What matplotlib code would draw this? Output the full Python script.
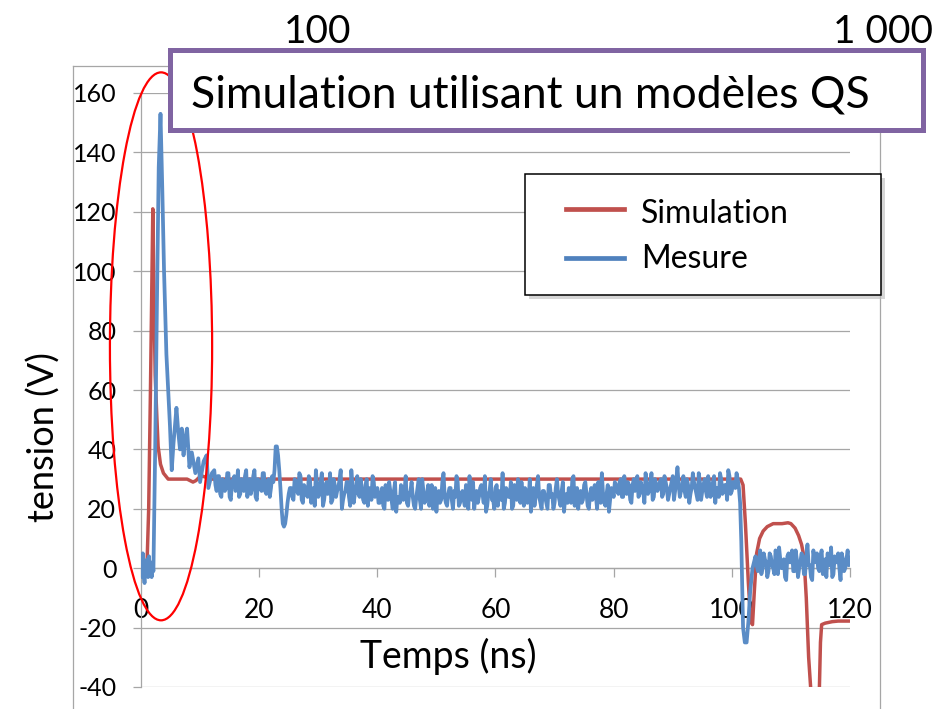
import matplotlib
matplotlib.use("Agg")
import matplotlib.pyplot as plt
import numpy as np
from matplotlib.patches import Rectangle, Ellipse
from matplotlib.lines import Line2D

plt.rcParams['font.family'] = ['Lato', 'DejaVu Sans']
plt.rcParams['axes.unicode_minus'] = False

# ---------------- data ----------------
serie_sim = "Simulation"
serie_mes = "Mesure"

# Simulation (red)
sim_t = [0, 1.0, 1.3, 1.6, 1.8, 2.0, 2.2, 2.4, 2.7, 2.9, 3.3, 3.8, 4.6, 7.8, 8.3, 8.8,
         9.3, 9.8, 10.4, 11.2, 12.0, 101.5, 101.9, 102.3, 102.8, 103.2, 103.5, 103.8,
         104.2, 104.7, 105.3, 106.0, 107.0, 108.5, 109.5, 110.0, 110.7, 111.3, 111.8,
         112.2, 112.6, 113.0, 113.4, 114.8, 115.0, 115.2, 115.8, 117.0, 118.0, 120.0]
sim_v = [0, 0, 20, 60, 90, 121, 90, 65, 50, 41, 35, 32, 30, 30, 29.5, 29,
         29.5, 30.5, 31, 30.5, 30, 30, 28, 15, -5, -18, -19, -8,
         5, 10, 12.5, 14, 15, 15, 15.3, 15, 13.5, 11, 8,
         4, -10, -30, -42, -42, -25, -19, -18.5, -18, -17.8, -17.8]

# Mesure (blue) - start transient
mes_t_debut = [0.0, 0.15, 0.3, 0.45, 0.6, 0.75, 0.9, 1.05, 1.2, 1.35, 1.5, 1.65, 1.8,
               1.95, 2.1, 2.4, 2.7, 3.0, 3.3, 3.6, 3.9, 4.3, 4.6, 4.9, 5.2, 5.5, 6.0,
               6.3, 6.6, 6.9, 7.2, 7.5, 7.8, 8.2, 8.6, 9.2, 9.7, 10.0, 10.6, 11.1,
               11.4, 12.0]
mes_v_debut = [4, -3, 5, -2, -5, 2, -1, 3, -3, 4, -2, 1, -3,
               2, -1, 40, 90, 135, 153, 128, 100, 72, 60, 48, 33, 42, 54,
               46, 40, 47, 38, 44, 47, 34, 39, 32, 37, 29, 36, 38,
               27, 32]

# Mesure plateau, oscilloscope samples every 0.2 ns (two interleaved lists)
mes_plateau_t0 = 12.4
mes_pas = 0.4
mes_v_plateau = [
    33, 26, 31, 24, 29, 27, 32, 23, 30, 26, 33, 25, 28, 31, 24, 30, 27, 33, 23, 29,
    26, 32, 25, 30, 27, 29,
    41, 38, 27, 15, 15, 22, 27,
    24, 30, 26, 32, 23, 28, 25, 31, 22, 27, 33, 24, 29, 21, 27, 25, 32, 23, 28, 26,
    30, 20, 25, 29, 24, 33, 22, 27, 25, 30, 23, 28, 21, 26, 31, 24, 27,
    22, 27, 20, 25, 29, 23, 26, 19, 24, 28,
    23, 31, 21, 26, 24, 20, 27, 23, 30, 22,
    25, 21, 28, 24, 19, 26, 23, 32, 22, 25,
    27, 20, 24, 29, 22, 26, 21, 25, 31, 23,
    20, 26, 24, 28, 22, 19, 25, 30, 23, 27,
    21, 25, 32, 22, 26, 24, 20, 28, 23, 25,
    29, 21, 26, 23, 19, 27, 24, 31, 22, 26,
    24, 20, 28, 25, 22, 30, 23, 26, 19, 25,
    27, 22, 31, 24, 20, 26, 23, 29, 21, 25,
    23, 28, 20, 26, 32, 22, 25, 19, 27, 24,
    28, 25, 30, 24, 27, 29, 23, 28, 26, 31, 25, 27, 22, 29, 26, 32, 24, 28, 27, 30,
    25, 29, 23, 27, 31, 26, 34, 24, 28, 26, 30, 22, 27, 29, 25, 32, 23, 28, 26, 31,
    24, 29, 22, 27, 32, 25, 28, 23, 31, 26, 29, 32, 27]
mes_plateau_mi_t0 = 12.6
mes_v_plateau_mi = [
    28, 31, 25, 30, 26, 32, 24, 29, 31, 27, 24, 30, 26, 33, 28, 25, 31, 24, 30, 27,
    32, 26, 29, 24, 31,
    33, 41, 33, 20, 14, 18, 25,
    27, 23, 29, 25, 31, 22, 27, 24, 30, 26, 21, 28, 25, 32, 23, 29, 26, 22, 30, 24,
    27, 33, 23, 26, 29, 21, 28, 25, 31, 24, 26, 22, 30, 27, 23, 29, 25, 22,
    25, 21, 28, 23, 26, 20, 29, 24, 22, 27,
    26, 22, 25, 29, 21, 24, 30, 20, 26, 23,
    28, 24, 20, 27, 25, 22, 29, 24, 21, 27,
    23, 26, 31, 21, 25, 23, 28, 20, 24, 29,
    24, 22, 27, 25, 31, 21, 26, 23, 20, 28,
    26, 23, 20, 27, 24, 29, 21, 25, 30, 22,
    24, 27, 22, 30, 25, 21, 28, 24, 20, 26,
    22, 28, 24, 20, 27, 25, 21, 29, 24, 22,
    25, 30, 21, 27, 24, 22, 28, 25, 20, 27,
    26, 24, 29, 22, 25, 21, 28, 23, 26, 29,
    26, 29, 24, 31, 25, 28, 22, 30, 27, 24, 29, 26, 32, 25, 28, 23, 30, 26, 29, 24,
    31, 27, 25, 29, 23, 30, 28, 26, 31, 24, 28, 25, 32, 27, 23, 29, 26, 30, 24, 28,
    25, 31, 27, 24, 30, 26, 28, 33, 25, 29, 27, 30]

# Mesure - fall near 102 ns
mes_t_chute = [101.4, 101.6, 101.9, 102.2, 102.5, 102.8, 103.1, 103.5]
mes_v_chute = [22, 9, -20, -25, -25, -18, -8, 0]

# Mesure tail (two interleaved lists, 0.2 ns apart)
mes_fin_t0 = 104.0
mes_v_fin = [4, -1, 6, 0, 3, -3, 5, 1, -2, 4, 7, 0, 3, -4, 5, 2, -1, 6, -3, 2,
             4, -2, 8, 1, -4, 3, 5, -1, 6, 0, -3, 4, 7, -2, 2, 5, -4, 3, 0, 6, 2]
mes_fin_mi_t0 = 104.2
mes_v_fin_mi = [1, 3, -2, 5, 2, -1, 4, 0, 6, -2, 3, 1, -3, 4, 2, 6, -1, 3, 0, 5,
                -2, 4, 1, -3, 6, 2, 0, 4, -2, 3, 5, 1, -3, 4, 2, 0, 5, -1, 3, 1]

x_ticks = [0, 20, 40, 60, 80, 100, 120]
y_ticks = [-40, -20, 0, 20, 40, 60, 80, 100, 120, 140, 160]

titre_encadre = "Simulation utilisant un modèles QS"
texte_100 = "100"
texte_1000 = "1 000"
x_label = "Temps (ns)"
y_label = "tension (V)"

# ---------------- assemble ----------------
def grille(t0, vals):
    return t0 + mes_pas * np.arange(len(vals))

mes_t = np.concatenate([mes_t_debut,
                        grille(mes_plateau_t0, mes_v_plateau),
                        grille(mes_plateau_mi_t0, mes_v_plateau_mi),
                        mes_t_chute,
                        grille(mes_fin_t0, mes_v_fin),
                        grille(mes_fin_mi_t0, mes_v_fin_mi)])
mes_v = np.concatenate([mes_v_debut, mes_v_plateau, mes_v_plateau_mi, mes_v_chute,
                        mes_v_fin, mes_v_fin_mi]).astype(float)
ordre = np.argsort(mes_t, kind='stable')
mes_t = mes_t[ordre]
mes_v = mes_v[ordre]

C_RED = '#C0504D'
C_BLUE = '#4F81BD'
C_BLUE_LINE = '#5A8CC6'
GRID = '#A6A6A6'

W, H = 937, 709
fig = plt.figure(figsize=(W / 100, H / 100), dpi=100)

def fx(x):
    return x / W

def fy(y):
    return 1 - y / H

# outer chart frame
for (xa, ya, xb, yb) in [(73, 66, 880, 66), (73, 66, 73, 709), (880, 66, 880, 709)]:
    fig.add_artist(Line2D([fx(xa), fx(xb)], [fy(ya), fy(yb)], color=GRID, lw=0.9,
                          transform=fig.transFigure, zorder=0))

ax = fig.add_axes([fx(141), fy(687), 709 / W, 594 / H])
ax.set_xlim(0, 120)
ax.set_ylim(-40, 160)
ax.patch.set_alpha(0)

ax.plot(sim_t, sim_v, color=C_RED, lw=2.5, zorder=3, solid_joinstyle='round')
ax.plot(mes_t, mes_v, color=C_BLUE_LINE, lw=2.7, zorder=4, solid_joinstyle='round')

ax.set_yticks(y_ticks)
ax.set_xticks(x_ticks)
ax.yaxis.grid(True, color=GRID, lw=0.9)
ax.set_axisbelow(True)
for s in ['top', 'right']:
    ax.spines[s].set_visible(False)
ax.spines['left'].set_color(GRID)
ax.spines['left'].set_linewidth(0.9)
ax.spines['bottom'].set_position(('data', 0))
ax.spines['bottom'].set_color(GRID)
ax.spines['bottom'].set_linewidth(0.9)
ax.tick_params(axis='y', direction='out', length=5.8, width=0.9, color=GRID,
               labelsize=18, pad=12)
ax.tick_params(axis='x', direction='out', length=6.5, width=0.9, color=GRID,
               labelsize=19, pad=15)

# red ellipse annotation
ax.add_patch(Ellipse((3.39, 74.7), 17.3, 184.5, fill=False, ec='#FF0000', lw=1.6,
                     clip_on=False, zorder=6))

# axis labels
fig.text(fx(360), fy(668), x_label, fontsize=27, ha='left', va='baseline')
fig.text(fx(44), fy(352), y_label, fontsize=26, ha='right', va='center',
         rotation=90, rotation_mode='anchor')

# top texts
fig.text(fx(318), fy(42.7), texte_100, fontsize=28, ha='center', va='baseline')
fig.text(fx(933), fy(42.7), texte_1000, fontsize=28, ha='right', va='baseline')

# purple box
fig.add_artist(Rectangle((fx(170), fy(130)), (923 - 170) / W, 80 / H,
                         transform=fig.transFigure, fc='white', ec='#8064A2',
                         lw=3.6, zorder=10))
fig.text(fx(191), fy(107.3), titre_encadre, fontsize=32, ha='left', va='baseline',
         zorder=11)

# legend (manual)
fig.add_artist(Rectangle((fx(529), fy(299)), (881 - 525) / W, (295 - 174) / H,
                         transform=fig.transFigure, fc='#BBBBBB', ec='none',
                         alpha=0.6, zorder=11))
fig.add_artist(Rectangle((fx(525), fy(295)), (881 - 525) / W, (295 - 174) / H,
                         transform=fig.transFigure, fc='white', ec='black',
                         lw=1.1, zorder=12))
for (nom, col, yb, yl) in [(serie_sim, C_RED, 222.7, 209), (serie_mes, C_BLUE, 268.3, 258)]:
    fig.add_artist(Line2D([fx(566), fx(624)], [fy(yl), fy(yl)], color=col, lw=3.4,
                          transform=fig.transFigure, zorder=13))
    fig.text(fx(641), fy(yb), nom, fontsize=23, ha='left', va='baseline', zorder=13)

fig.savefig("out.png", dpi=100)
